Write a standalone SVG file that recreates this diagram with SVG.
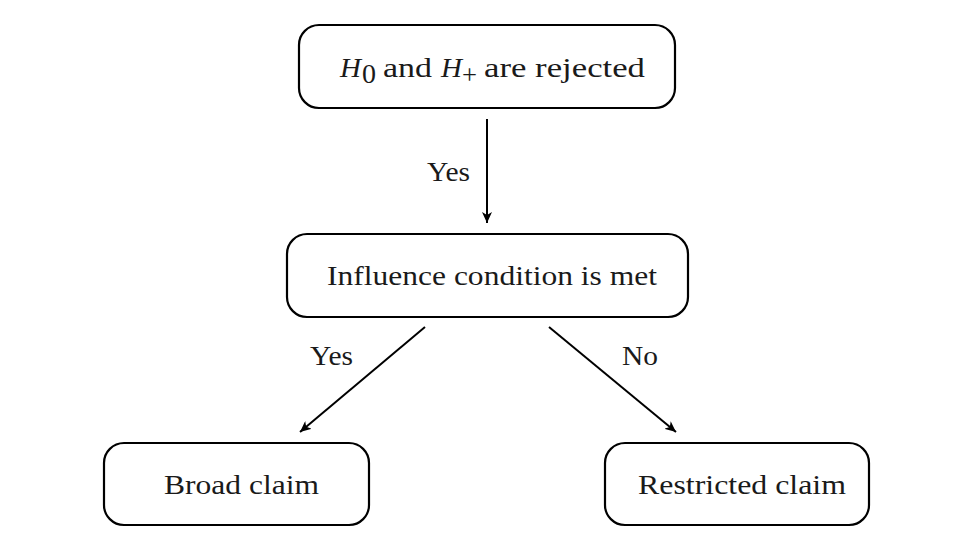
<svg xmlns="http://www.w3.org/2000/svg" width="962" height="549" viewBox="0 0 962 549" font-family="'Liberation Serif', 'Times New Roman', 'DejaVu Serif', serif">
<style>
.box{fill:#fff;stroke:#000;stroke-width:2.2}
.t{font-family:'Liberation Serif','Times New Roman','DejaVu Serif',serif;font-size:28px;fill:#1a1a1a}
.c{stroke:#000;stroke-width:2;fill:none}
</style>
<defs>
<marker id="ah" viewBox="0 0 12 10" refX="11" refY="5" markerWidth="12" markerHeight="10" markerUnits="userSpaceOnUse" orient="auto">
<path d="M0,0 L11,5 L0,10 L3,5 Z" fill="#000"/>
</marker>
</defs>
<rect width="962" height="549" fill="#fff"/>
<g id="n1">
<rect class="box" x="299" y="25" width="376" height="83" rx="20"/>
<text class="t" x="340" y="77" font-style="italic" textLength="21" lengthAdjust="spacingAndGlyphs">H</text>
<text class="t" x="362" y="83" font-size="19">0</text>
<text class="t" x="383" y="77" textLength="49" lengthAdjust="spacingAndGlyphs">and</text>
<text class="t" x="441" y="77" font-style="italic" textLength="21" lengthAdjust="spacingAndGlyphs">H</text>
<text class="t" x="462" y="84" font-size="24" textLength="15" lengthAdjust="spacingAndGlyphs">+</text>
<text class="t" x="484" y="77" textLength="161" lengthAdjust="spacingAndGlyphs">are rejected</text>
</g>
<g id="n2">
<rect class="box" x="287" y="234" width="401" height="83" rx="20"/>
<text class="t" x="327" y="285" textLength="330" lengthAdjust="spacingAndGlyphs">Influence condition is met</text>
</g>
<g id="n3">
<rect class="box" x="104" y="443" width="265" height="82" rx="20"/>
<text class="t" x="164" y="494" textLength="155" lengthAdjust="spacingAndGlyphs">Broad claim</text>
</g>
<g id="n4">
<rect class="box" x="605" y="443" width="264" height="82" rx="20"/>
<text class="t" x="638" y="494" textLength="208" lengthAdjust="spacingAndGlyphs">Restricted claim</text>
</g>
<g id="connectors">
<line class="c" x1="487" y1="119" x2="487" y2="223" marker-end="url(#ah)"/>
<line class="c" x1="425" y1="327" x2="300" y2="432" marker-end="url(#ah)"/>
<line class="c" x1="549" y1="327" x2="676" y2="432" marker-end="url(#ah)"/>
<text class="t" x="427" y="181" textLength="43" lengthAdjust="spacingAndGlyphs">Yes</text>
<text class="t" x="310" y="365" textLength="43" lengthAdjust="spacingAndGlyphs">Yes</text>
<text class="t" x="622" y="365" textLength="36" lengthAdjust="spacingAndGlyphs">No</text>
</g>
</svg>
